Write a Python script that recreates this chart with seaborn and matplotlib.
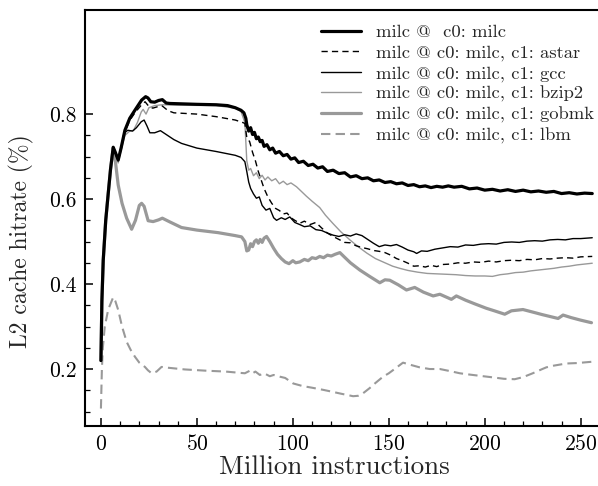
import matplotlib
matplotlib.use("Agg")
import matplotlib.pyplot as plt
from matplotlib.ticker import FixedLocator, FixedFormatter
import seaborn as sns

sns.set_style("ticks")
plt.rcParams["font.family"] = ["cmr10", "DejaVu Serif"]
plt.rcParams["mathtext.fontset"] = "cm"
plt.rcParams["axes.formatter.use_mathtext"] = True

# ---- data: L2 hit rate of milc on core 0, alone and with a co-runner on core 1 ----
milc_x = [0, 0.5, 1.2, 2.5, 3.8, 5, 6.4, 7.5, 9, 10.5, 12.5, 15, 17.7, 21.2, 23.3, 24.5,
          26, 28, 30, 32, 34, 36, 50, 60, 66, 70, 73, 74.5, 75.5, 76, 77, 78, 79, 80, 81,
          82, 83, 84, 85, 86.5, 88, 89.5, 91, 93, 95, 97, 99, 101, 103, 105.5, 108, 110.5,
          113, 115.5, 118, 121, 124, 127, 130, 133, 136, 139, 142, 145, 148, 151, 154, 157,
          160, 163, 166, 169, 172, 175, 178, 181, 184, 188, 192, 196, 200, 204, 208, 212,
          216, 220, 224, 228, 232, 236, 240, 244, 248, 252, 256]
milc_y = [0.22, 0.36, 0.456, 0.55, 0.613, 0.67, 0.722, 0.71, 0.692, 0.72, 0.762, 0.79, 0.809,
          0.833, 0.841, 0.838, 0.829, 0.828, 0.832, 0.834, 0.826, 0.825, 0.823, 0.822, 0.82,
          0.815, 0.809, 0.803, 0.79, 0.775, 0.76, 0.768, 0.752, 0.757, 0.742, 0.746, 0.735,
          0.738, 0.724, 0.728, 0.716, 0.72, 0.708, 0.712, 0.702, 0.705, 0.694, 0.697, 0.686,
          0.689, 0.679, 0.682, 0.673, 0.676, 0.665, 0.668, 0.66, 0.662, 0.652, 0.655, 0.648,
          0.65, 0.643, 0.645, 0.639, 0.641, 0.636, 0.638, 0.632, 0.634, 0.629, 0.631, 0.627,
          0.63, 0.628, 0.631, 0.628, 0.63, 0.624, 0.626, 0.621, 0.623, 0.619, 0.622, 0.618,
          0.621, 0.617, 0.619, 0.616, 0.618, 0.613, 0.615, 0.612, 0.614, 0.613]

astar_x = [0, 0.5, 1.2, 2.5, 3.8, 5, 6.4, 7.5, 9, 10.5, 12.5, 15, 17.7, 21.2, 23, 25, 27, 30,
           32, 35, 38, 50, 60, 70, 74, 75, 76, 77.5, 79, 80.5, 82, 83.5, 85, 87, 89, 91, 93,
           95, 97, 99, 101, 103.6, 106, 109, 112, 115, 118, 121, 124, 127, 130, 133, 136, 139,
           142, 145, 148, 151, 154, 157, 160, 163, 166, 169, 172, 175, 178, 182, 186, 190,
           194, 198, 202, 206, 210, 214, 218, 222, 226, 230, 234, 238, 242, 246, 250, 256]
astar_y = [0.22, 0.36, 0.456, 0.55, 0.613, 0.67, 0.72, 0.708, 0.69, 0.718, 0.758, 0.785, 0.803,
           0.822, 0.829, 0.818, 0.814, 0.818, 0.819, 0.808, 0.803, 0.8, 0.794, 0.786, 0.78,
           0.778, 0.745, 0.735, 0.71, 0.69, 0.665, 0.645, 0.625, 0.605, 0.59, 0.578, 0.573,
           0.565, 0.567, 0.556, 0.55, 0.543, 0.548, 0.54, 0.545, 0.532, 0.52, 0.512, 0.505,
           0.498, 0.497, 0.49, 0.486, 0.483, 0.479, 0.477, 0.474, 0.468, 0.46, 0.455, 0.449,
           0.442, 0.443, 0.44, 0.444, 0.441, 0.446, 0.447, 0.45, 0.449, 0.452, 0.451, 0.454,
           0.452, 0.455, 0.456, 0.455, 0.458, 0.457, 0.46, 0.459, 0.461, 0.462, 0.461, 0.464,
           0.465]

gcc_x = [0, 0.5, 1.2, 2.5, 3.8, 5, 6.4, 7.5, 9, 10.5, 12, 14, 16.5, 18.5, 21, 22.5, 24, 25.5,
         28, 31, 34, 38, 42, 50, 60, 70, 73, 75, 76, 77, 78, 79.5, 81, 82.5, 84, 86, 88, 90,
         91.5, 94, 96, 98.4, 101, 103.6, 106, 109, 112, 115, 118, 121, 124, 127, 130, 133,
         136, 139, 142, 145, 148, 151, 154, 157, 160, 163, 164.5, 167, 170, 174, 178, 182,
         186, 190, 194, 198, 202, 206, 210, 214, 218, 222, 226, 230, 234, 238, 242, 246, 250,
         256]
gcc_y = [0.22, 0.36, 0.456, 0.55, 0.613, 0.67, 0.722, 0.71, 0.69, 0.72, 0.755, 0.762, 0.76,
         0.768, 0.782, 0.786, 0.772, 0.756, 0.756, 0.761, 0.752, 0.74, 0.731, 0.72, 0.712,
         0.703, 0.698, 0.688, 0.665, 0.64, 0.625, 0.612, 0.602, 0.605, 0.585, 0.574, 0.578,
         0.556, 0.55, 0.556, 0.552, 0.558, 0.545, 0.54, 0.535, 0.537, 0.528, 0.526, 0.52,
         0.515, 0.512, 0.516, 0.513, 0.518, 0.514, 0.505, 0.496, 0.488, 0.492, 0.49, 0.493,
         0.487, 0.48, 0.476, 0.472, 0.478, 0.477, 0.482, 0.485, 0.488, 0.487, 0.492, 0.491,
         0.494, 0.495, 0.494, 0.498, 0.499, 0.498, 0.501, 0.502, 0.501, 0.504, 0.505, 0.504,
         0.507, 0.507, 0.509]

bzip2_x = [0, 0.5, 1.2, 2.5, 3.8, 5, 6.4, 7.5, 9, 10.5, 12.5, 15, 17, 19, 21, 22, 23.5, 25,
           28, 32, 40, 60, 70, 73, 75, 76, 77, 78, 79.5, 81, 82.5, 84, 85.5, 87, 89, 91, 93,
           95, 97, 99, 101.9, 104, 107, 110, 114, 117, 120.8, 125, 129.7, 134, 138.5, 143,
           148, 152, 155.7, 160, 165, 170, 175, 180, 185, 190, 195, 200, 204, 208, 212, 216,
           220, 224, 228, 232, 236, 240, 244, 248, 252, 256]
bzip2_y = [0.22, 0.36, 0.456, 0.55, 0.613, 0.67, 0.72, 0.705, 0.685, 0.715, 0.75, 0.76, 0.762,
           0.78, 0.805, 0.811, 0.8, 0.815, 0.82, 0.822, 0.821, 0.82, 0.814, 0.806, 0.78, 0.69,
           0.668, 0.672, 0.655, 0.662, 0.648, 0.656, 0.645, 0.652, 0.643, 0.648, 0.636, 0.642,
           0.634, 0.638, 0.629, 0.62, 0.607, 0.595, 0.58, 0.562, 0.543, 0.523, 0.504, 0.488,
           0.473, 0.46, 0.45, 0.442, 0.437, 0.432, 0.428, 0.425, 0.424, 0.423, 0.422, 0.42,
           0.419, 0.419, 0.418, 0.422, 0.424, 0.427, 0.428, 0.431, 0.433, 0.435, 0.437, 0.44,
           0.442, 0.445, 0.447, 0.449]

gobmk_x = [0, 0.5, 1.2, 2.5, 3.8, 5, 6.4, 7.5, 9, 11, 13.4, 16, 18, 20, 21.2, 22.5, 24.6,
           27.2, 30, 32, 36, 42, 50, 61, 70, 73.3, 75, 76, 77, 78, 79, 80, 81, 82, 83, 84, 85,
           86.3, 88, 90, 92, 94, 96, 98, 100, 101.5, 103.6, 106, 108, 110, 112, 114, 116, 118,
           120, 122, 124.5, 127, 130, 134.9, 140, 145.3, 148, 150.5, 155, 159.2, 163.5, 168,
           173.1, 176.6, 182.6, 185.2, 190, 195, 200.8, 205, 210.4, 213.9, 219.9, 225, 230,
           238.2, 240.8, 245, 250, 255.6]
gobmk_y = [0.22, 0.36, 0.456, 0.55, 0.613, 0.67, 0.72, 0.69, 0.633, 0.59, 0.555, 0.529, 0.55,
           0.585, 0.59, 0.583, 0.549, 0.547, 0.551, 0.555, 0.546, 0.533, 0.527, 0.521, 0.514,
           0.511, 0.5, 0.478, 0.48, 0.495, 0.488, 0.5, 0.504, 0.496, 0.505, 0.498, 0.508,
           0.512, 0.5, 0.484, 0.47, 0.46, 0.452, 0.448, 0.455, 0.45, 0.452, 0.458, 0.455,
           0.462, 0.46, 0.465, 0.462, 0.468, 0.466, 0.47, 0.474, 0.463, 0.45, 0.433, 0.418,
           0.403, 0.41, 0.409, 0.398, 0.386, 0.392, 0.381, 0.372, 0.376, 0.364, 0.372, 0.362,
           0.353, 0.343, 0.337, 0.329, 0.337, 0.34, 0.334, 0.328, 0.319, 0.327, 0.321, 0.315,
           0.309]

lbm_x = [0, 0.5, 1, 2, 3.8, 6.4, 7.5, 9, 11, 13.4, 15.5, 17.7, 20, 22.9, 24.5, 26.4, 29, 31.6,
         35, 43.7, 55, 65, 72.4, 75, 77.6, 79, 80.5, 82.8, 85, 88, 90, 93.2, 96, 100.2, 105,
         110, 115.8, 120, 125, 131.4, 134, 136.6, 140, 143, 147, 150, 153, 157.4, 162, 166,
         171.3, 176.6, 182, 187, 192, 197.4, 203, 210, 215.6, 220, 225, 230, 232.1, 236,
         242.5, 248, 255.6]
lbm_y = [0.107, 0.2, 0.25, 0.3, 0.34, 0.369, 0.36, 0.339, 0.3, 0.264, 0.245, 0.229, 0.215,
         0.205, 0.197, 0.19, 0.194, 0.205, 0.203, 0.199, 0.196, 0.194, 0.191, 0.19, 0.196,
         0.19, 0.194, 0.186, 0.19, 0.183, 0.186, 0.182, 0.179, 0.166, 0.16, 0.156, 0.151,
         0.147, 0.142, 0.136, 0.137, 0.143, 0.155, 0.167, 0.182, 0.19, 0.2, 0.215, 0.209,
         0.204, 0.2, 0.2, 0.195, 0.19, 0.187, 0.184, 0.181, 0.177, 0.176, 0.181, 0.19, 0.2,
         0.204, 0.208, 0.213, 0.214, 0.217]

labels = ["milc @  c0: milc",
          "milc @ c0: milc, c1: astar",
          "milc @ c0: milc, c1: gcc",
          "milc @ c0: milc, c1: bzip2",
          "milc @ c0: milc, c1: gobmk",
          "milc @ c0: milc, c1: lbm"]

x_ticks = [0, 50, 100, 150, 200, 250]
y_ticks = [0.2, 0.4, 0.6, 0.8]
y_tick_labels = ["0.2", "0.4", "0.6", "0.8"]

GREY = "#999999"
series = [
    (milc_x, milc_y, dict(color="black", linewidth=2.3, zorder=10), None),
    (astar_x, astar_y, dict(color="black", linewidth=1.0, zorder=9), (4.5, 3.0)),
    (gcc_x, gcc_y, dict(color="black", linewidth=1.0, zorder=8), None),
    (bzip2_x, bzip2_y, dict(color=GREY, linewidth=1.0, zorder=7), None),
    (gobmk_x, gobmk_y, dict(color=GREY, linewidth=2.3, zorder=6), None),
    (lbm_x, lbm_y, dict(color=GREY, linewidth=1.5, zorder=5), (4.5, 2.5)),
]

fig = plt.figure(figsize=(5.98, 4.86), dpi=100)
ax = fig.add_axes([85 / 598, 1 - 425.7 / 486, (598 - 85) / 598, (425.7 - 10) / 486])

handles = []
for (xs, ys, style, dash), label in zip(series, labels):
    sns.lineplot(x=xs, y=ys, ax=ax, label=label, sort=False, estimator=None, **style)
    line = ax.lines[-1]
    line.set_solid_joinstyle("round")
    if dash is not None:
        line.set_dashes(dash)
    handles.append(line)

ax.set_xlim(-8.3, 259)
ax.set_ylim(0.0666, 1.045)

ax.xaxis.set_major_locator(FixedLocator(x_ticks))
ax.xaxis.set_minor_locator(FixedLocator([v for v in range(10, 260, 10) if v % 50]))
ax.yaxis.set_major_locator(FixedLocator(y_ticks))
ax.yaxis.set_major_formatter(FixedFormatter(y_tick_labels))
ax.yaxis.set_minor_locator(FixedLocator([0.1, 0.15, 0.25, 0.3, 0.35, 0.45, 0.5, 0.55,
                                         0.65, 0.7, 0.75]))

ax.tick_params(which="both", direction="in", top=False, right=False, colors="black")
ax.tick_params(which="major", length=6, width=1.1, labelsize=15.5, pad=6)
ax.tick_params(which="minor", length=3.5, width=0.9)

for side in ("left", "bottom", "top"):
    ax.spines[side].set_linewidth(1.5)
    ax.spines[side].set_color("black")
ax.spines["right"].set_visible(False)

ax.set_xlabel("Million instructions", fontsize=19.5)
ax.set_ylabel("L2 cache hitrate (%)", fontsize=17)
ax.xaxis.set_label_coords(0.486, -0.072)
ax.yaxis.set_label_coords(-0.1, 0.445)

ax.legend(handles=handles, labels=labels, loc="upper left",
          bbox_to_anchor=(321 / 598, 1 - 24 / 486), bbox_transform=fig.transFigure,
          frameon=False, fontsize=13.4, handlelength=2.15, handletextpad=0.8,
          labelspacing=0.23, borderpad=0, borderaxespad=0)

fig.savefig("out.png", dpi=100)
